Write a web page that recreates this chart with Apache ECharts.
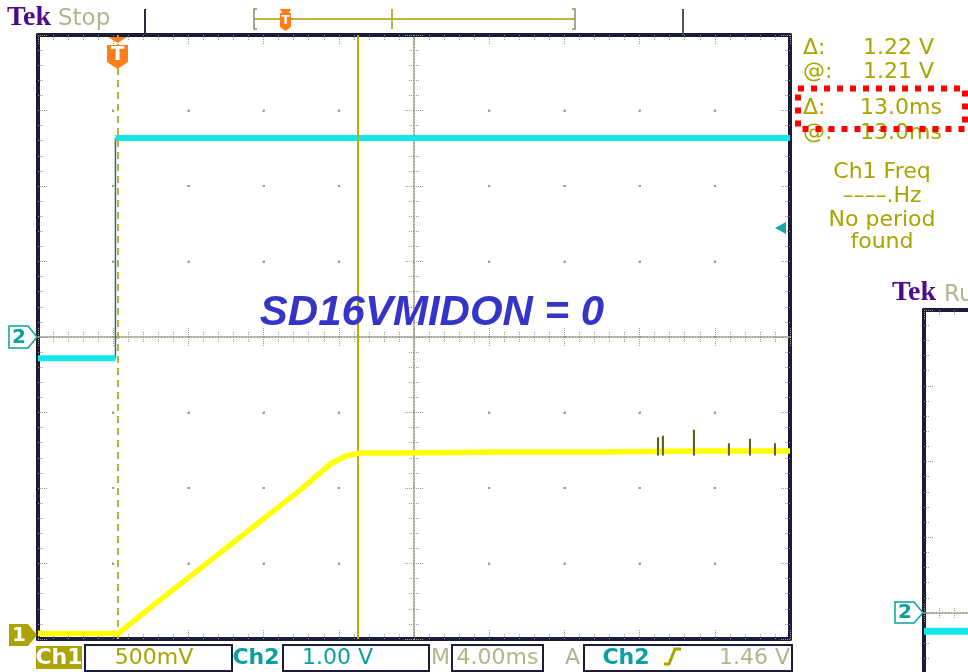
<!DOCTYPE html>
<html>
<head>
<meta charset="utf-8">
<title>Tek scope capture</title>
<script src="https://cdn.jsdelivr.net/npm/echarts@6/dist/echarts.min.js"></script>
<style>
  html, body { margin: 0; padding: 0; background: #fff; }
  #chart { width: 968px; height: 672px; }
</style>
</head>
<body>
<div id="chart"></div>
<script>
// time is ms from the left edge of the screen (4.00 ms/div, 10 div)
var ch1Time = [0, 4.26, 5.96, 11.28, 13.94, 15.53, 16.33, 17.13, 19.26, 24.57, 29.89, 35.21, 40];
var ch1Volt = [0.01, 0.01, 0.18, 0.70, 0.96, 1.13, 1.185, 1.205, 1.205, 1.212, 1.212, 1.219, 1.219];
var spikeTime = [32.98, 33.24, 34.89, 36.75, 37.87, 39.20];
var spikeVolt = [1.31, 1.32, 1.36, 1.27, 1.30, 1.27];
var spikeBase = 1.19;
var ch2Time = [0, 4.12, 4.12, 40];
var ch2Volt = [-0.28, -0.28, 2.636, 2.636];
// second (partly visible) capture on the right
var ch2bTime = [0, 40];
var ch2bVolt = [-0.24, -0.24];
var cursorTime = 17.02;
var triggerTime = 4.23;

var dotGrey = '#9d9d88';
var frame = '#1b1b3a';
var olive = '#aaa300';
var khaki = '#b4b48c';
var teal = '#0aa0a0';
var font = '"DejaVu Sans", sans-serif';

function pairs(ts, vs) {
    var out = [];
    for (var i = 0; i < ts.length; i++) {
        if (i > 0 && ts[i] === ts[i - 1]) out.push([ts[i], '-']);
        out.push([ts[i], vs[i]]);
    }
    return out;
}
function spikes() {
    var out = [];
    for (var i = 0; i < spikeTime.length; i++) {
        out.push([spikeTime[i], spikeBase], [spikeTime[i], spikeVolt[i]], [spikeTime[i], '-']);
    }
    return out;
}

var tickStyle = { color: dotGrey, width: 1, type: [1, 1] };
function axis(o) {
    var a = {
        type: 'value',
        axisLabel: { show: false },
        axisTick: { show: true, inside: true, length: 9, lineStyle: tickStyle },
        minorTick: { show: true, splitNumber: 5, length: 6, lineStyle: tickStyle },
        splitLine: { show: false },
        axisLine: { show: true, onZero: false, lineStyle: { color: frame, width: 4 } }
    };
    for (var k in o) a[k] = o[k];
    return a;
}
var centerLine = { color: dotGrey, width: 1.5, type: [1, 2] };

var chart = echarts.init(document.getElementById('chart'));
chart.setOption({
    animation: false,
    backgroundColor: '#fff',
    grid: [
        { left: 38, top: 35, width: 752, height: 604, outerBoundsMode: 'none' },
        { left: 924, top: 310, width: 752, height: 606, outerBoundsMode: 'none' }
    ],
    xAxis: [
        axis({ gridIndex: 0, min: 0, max: 40, interval: 4, position: 'bottom',
            splitLine: { show: true, lineStyle: { color: dotGrey, width: 2, type: [2, 73.5], dashOffset: 1 } } }),
        axis({ gridIndex: 0, min: 0, max: 40, interval: 4, position: 'top' }),
        axis({ gridIndex: 0, min: -20, max: 20, interval: 4, position: 'bottom',
            axisLine: { show: true, onZero: true, onZeroAxisIndex: 0, lineStyle: centerLine } }),
        axis({ gridIndex: 0, min: -20, max: 20, interval: 4, position: 'top',
            axisLine: { show: true, onZero: true, onZeroAxisIndex: 0, lineStyle: centerLine } }),
        axis({ gridIndex: 1, min: 0, max: 40, interval: 4, position: 'bottom',
            axisLine: { show: false, onZero: false },
            splitLine: { show: true, lineStyle: { color: dotGrey, width: 2, type: [2, 73.75], dashOffset: 1 } } }),
        axis({ gridIndex: 1, min: 0, max: 40, interval: 4, position: 'top' }),
        axis({ gridIndex: 1, min: -20, max: 20, interval: 4, position: 'bottom',
            axisLine: { show: true, onZero: true, onZeroAxisIndex: 5, lineStyle: centerLine } }),
        axis({ gridIndex: 1, min: -20, max: 20, interval: 4, position: 'top',
            axisLine: { show: true, onZero: true, onZeroAxisIndex: 5, lineStyle: centerLine } })
    ],
    yAxis: [
        // ch2, 1.00 V/div, ground at centre
        axis({ gridIndex: 0, min: -4, max: 4, interval: 1, position: 'left',
            splitLine: { show: true, lineStyle: { color: dotGrey, width: 2, type: [2, 73.2], dashOffset: 1 } } }),
        axis({ gridIndex: 0, min: -4, max: 4, interval: 1, position: 'right' }),
        // ch1, 500 mV/div, ground near the bottom
        { type: 'value', gridIndex: 0, min: -0.026, max: 3.974, show: false },
        axis({ gridIndex: 0, min: -4, max: 4, interval: 1, position: 'left',
            axisLine: { show: true, onZero: true, onZeroAxisIndex: 2, lineStyle: centerLine } }),
        axis({ gridIndex: 0, min: -4, max: 4, interval: 1, position: 'right',
            axisLine: { show: true, onZero: true, onZeroAxisIndex: 2, lineStyle: centerLine } }),
        axis({ gridIndex: 1, min: -4, max: 4, interval: 1, position: 'left',
            splitLine: { show: true, lineStyle: { color: dotGrey, width: 2, type: [2, 73.2], dashOffset: 1 } } })
    ],
    series: [
        {
            name: 'ch2 edge', type: 'line', xAxisIndex: 0, yAxisIndex: 0,
            data: pairs([ch2Time[1], ch2Time[2]], [ch2Volt[1], ch2Volt[2]]).filter(function (p) { return p[1] !== '-'; }),
            symbol: 'none', lineStyle: { color: '#2f6f6f', width: 1.5 }, z: 3
        },
        {
            name: 'Ch2', type: 'line', xAxisIndex: 0, yAxisIndex: 0,
            data: pairs(ch2Time, ch2Volt), connectNulls: false,
            symbol: 'none', lineStyle: { color: '#12e6e6', width: 6 }, z: 4
        },
        {
            name: 'Ch1', type: 'line', xAxisIndex: 0, yAxisIndex: 2,
            data: pairs(ch1Time, ch1Volt),
            symbol: 'none', lineStyle: { color: '#ffff00', width: 5.5 }, z: 5,
            markLine: {
                silent: true, symbol: ['none', 'none'], label: { show: false },
                data: [
                    { xAxis: cursorTime, lineStyle: { color: '#b8b000', width: 2, type: 'solid' } },
                    { xAxis: triggerTime, lineStyle: { color: '#b8b43a', width: 2, type: [7, 5] } }
                ]
            }
        },
        {
            name: 'Ch1 spikes', type: 'line', xAxisIndex: 0, yAxisIndex: 2,
            data: spikes(), connectNulls: false,
            symbol: 'none', lineStyle: { color: '#5a5a10', width: 2 }, z: 6
        },
        {
            name: 'Ch2 (second)', type: 'line', xAxisIndex: 4, yAxisIndex: 5,
            data: pairs(ch2bTime, ch2bVolt),
            symbol: 'none', lineStyle: { color: '#12e6e6', width: 7 }, z: 4
        }
    ],
    graphic: [
        // top bar
        { type: 'text', x: 7, y: 32, z: 20, style: { text: 'Tek', fill: '#4b0c8c', font: 'bold 28px "Liberation Serif", serif', verticalAlign: 'bottom' } },
        { type: 'text', x: 58, y: 31, z: 20, style: { text: 'Stop', fill: khaki, font: '23px ' + font, verticalAlign: 'bottom' } },
        { type: 'line', z: 20, shape: { x1: 145, y1: 9, x2: 145, y2: 35 }, style: { stroke: '#2a2a48', lineWidth: 2 } },
        { type: 'line', z: 20, shape: { x1: 683, y1: 9, x2: 683, y2: 35 }, style: { stroke: '#4a5565', lineWidth: 2 } },
        { type: 'line', z: 20, shape: { x1: 254, y1: 19, x2: 575, y2: 19 }, style: { stroke: '#b8b440', lineWidth: 2 } },
        { type: 'polyline', z: 20, shape: { points: [[257, 9], [254, 9], [254, 29], [257, 29]] }, style: { stroke: '#8a8a70', lineWidth: 1.5, fill: null } },
        { type: 'polyline', z: 20, shape: { points: [[572, 9], [575, 9], [575, 29], [572, 29]] }, style: { stroke: '#8a8a70', lineWidth: 1.5, fill: null } },
        { type: 'line', z: 20, shape: { x1: 392, y1: 9, x2: 392, y2: 29 }, style: { stroke: '#b8b440', lineWidth: 2 } },
        { type: 'polygon', z: 21, shape: { points: [[280, 9], [291, 9], [289, 13], [291, 13], [291, 27], [285.5, 31], [280, 27], [280, 13], [282, 13]] }, style: { fill: '#ff7d1a' } },
        { type: 'text', x: 285.5, y: 21, z: 22, style: { text: 'T', fill: '#fff', font: 'bold 12px ' + font, align: 'center', verticalAlign: 'middle' } },
        // trigger marker
        { type: 'polygon', z: 21, shape: { points: [[108, 37], [127, 37], [117.5, 43]] }, style: { fill: '#ff7d1a' } },
        { type: 'polygon', z: 21, shape: { points: [[107, 45], [128, 45], [128, 62], [117.5, 69], [107, 62]] }, style: { fill: '#ff7d1a' } },
        { type: 'text', x: 117.5, y: 55, z: 22, style: { text: 'T', fill: '#fff', font: 'bold 20px ' + font, align: 'center', verticalAlign: 'middle' } },
        // ground markers
        { type: 'polygon', z: 21, shape: { points: [[9, 326], [28, 326], [37, 337], [28, 348], [9, 348]] }, style: { fill: '#fff', stroke: teal, lineWidth: 1.5 } },
        { type: 'text', x: 19, y: 337.5, z: 22, style: { text: '2', fill: teal, font: 'bold 20px ' + font, align: 'center', verticalAlign: 'middle' } },
        { type: 'polygon', z: 21, shape: { points: [[9, 624], [28, 624], [37, 635], [28, 646], [9, 646]] }, style: { fill: olive } },
        { type: 'text', x: 19, y: 635.5, z: 22, style: { text: '1', fill: '#fff', font: 'bold 20px ' + font, align: 'center', verticalAlign: 'middle' } },
        // ch2 trigger level
        { type: 'polygon', z: 21, shape: { points: [[775, 228], [786, 222], [786, 234]] }, style: { fill: '#1aa8a8' } },
        // readouts
        { type: 'text', x: 803, y: 48, z: 20, style: { text: 'Δ:', fill: olive, font: '22px ' + font, verticalAlign: 'middle' } },
        { type: 'text', x: 863, y: 48, z: 20, style: { text: '1.22 V', fill: olive, font: '22px ' + font, verticalAlign: 'middle' } },
        { type: 'text', x: 803, y: 72, z: 20, style: { text: '@:', fill: olive, font: '22px ' + font, verticalAlign: 'middle' } },
        { type: 'text', x: 863, y: 72, z: 20, style: { text: '1.21 V', fill: olive, font: '22px ' + font, verticalAlign: 'middle' } },
        { type: 'text', x: 803, y: 108, z: 20, style: { text: 'Δ:', fill: olive, font: '22px ' + font, verticalAlign: 'middle' } },
        { type: 'text', x: 860, y: 108, z: 20, style: { text: '13.0ms', fill: olive, font: '22px ' + font, verticalAlign: 'middle' } },
        { type: 'text', x: 803, y: 133, z: 20, style: { text: '@:', fill: olive, font: '22px ' + font, verticalAlign: 'middle' } },
        { type: 'text', x: 860, y: 133, z: 20, style: { text: '13.0ms', fill: olive, font: '22px ' + font, verticalAlign: 'middle' } },
        { type: 'rect', z: 21, shape: { x: 798, y: 88.5, width: 167, height: 40.5 }, style: { fill: null, stroke: '#ff0000', lineWidth: 6, lineDash: [6, 7] } },
        { type: 'text', x: 882, y: 172, z: 20, style: { text: 'Ch1 Freq', fill: olive, font: '22px ' + font, align: 'center', verticalAlign: 'middle' } },
        { type: 'text', x: 882, y: 196, z: 20, style: { text: '––––.Hz', fill: olive, font: '22px ' + font, align: 'center', verticalAlign: 'middle' } },
        { type: 'text', x: 882, y: 220, z: 20, style: { text: 'No period', fill: olive, font: '22px ' + font, align: 'center', verticalAlign: 'middle' } },
        { type: 'text', x: 882, y: 242, z: 20, style: { text: 'found', fill: olive, font: '22px ' + font, align: 'center', verticalAlign: 'middle' } },
        // annotation
        { type: 'text', x: 432, y: 313, z: 20, style: { text: 'SD16VMIDON = 0', fill: '#3434c8', font: 'italic bold 42px "Liberation Sans", Arial, sans-serif', align: 'center', verticalAlign: 'middle' } },
        // bottom bar
        { type: 'rect', z: 20, shape: { x: 36, y: 646, width: 46, height: 23 }, style: { fill: olive } },
        { type: 'text', x: 59, y: 658, z: 21, style: { text: 'Ch1', fill: '#fff', font: 'bold 22px ' + font, align: 'center', verticalAlign: 'middle' } },
        { type: 'rect', z: 20, shape: { x: 85, y: 645, width: 147, height: 26 }, style: { fill: null, stroke: frame, lineWidth: 2 } },
        { type: 'text', x: 154, y: 658, z: 21, style: { text: '500mV', fill: olive, font: '22px ' + font, align: 'center', verticalAlign: 'middle' } },
        { type: 'text', x: 256, y: 658, z: 21, style: { text: 'Ch2', fill: teal, font: 'bold 22px ' + font, align: 'center', verticalAlign: 'middle' } },
        { type: 'rect', z: 20, shape: { x: 283, y: 645, width: 146, height: 26 }, style: { fill: null, stroke: frame, lineWidth: 2 } },
        { type: 'text', x: 302, y: 658, z: 21, style: { text: '1.00 V', fill: teal, font: '22px ' + font, verticalAlign: 'middle' } },
        { type: 'text', x: 431, y: 658, z: 21, style: { text: 'M', fill: khaki, font: '22px ' + font, verticalAlign: 'middle' } },
        { type: 'rect', z: 20, shape: { x: 452, y: 645, width: 91, height: 26 }, style: { fill: null, stroke: frame, lineWidth: 2 } },
        { type: 'text', x: 497.5, y: 658, z: 21, style: { text: '4.00ms', fill: khaki, font: '22px ' + font, align: 'center', verticalAlign: 'middle' } },
        { type: 'text', x: 565, y: 658, z: 21, style: { text: 'A', fill: khaki, font: '22px ' + font, verticalAlign: 'middle' } },
        { type: 'rect', z: 20, shape: { x: 584, y: 645, width: 208, height: 26 }, style: { fill: null, stroke: frame, lineWidth: 2 } },
        { type: 'text', x: 626, y: 658, z: 21, style: { text: 'Ch2', fill: teal, font: 'bold 22px ' + font, align: 'center', verticalAlign: 'middle' } },
        { type: 'polyline', z: 21, shape: { points: [[664, 664], [669, 664], [675, 649], [681, 649]] }, style: { stroke: olive, lineWidth: 3, fill: null } },
        { type: 'text', x: 790, y: 658, z: 21, style: { text: '1.46 V', fill: khaki, font: '22px ' + font, align: 'right', verticalAlign: 'middle' } },
        // second capture header and marker
        { type: 'text', x: 892, y: 307, z: 20, style: { text: 'Tek', fill: '#4b0c8c', font: 'bold 28px "Liberation Serif", serif', verticalAlign: 'bottom' } },
        { type: 'text', x: 944, y: 307, z: 20, style: { text: 'Run', fill: khaki, font: '23px ' + font, verticalAlign: 'bottom' } },
        { type: 'polygon', z: 21, shape: { points: [[895, 602], [914, 602], [923, 612.7], [914, 623], [895, 623]] }, style: { fill: '#fff', stroke: teal, lineWidth: 1.5 } },
        { type: 'text', x: 905, y: 613, z: 22, style: { text: '2', fill: teal, font: 'bold 20px ' + font, align: 'center', verticalAlign: 'middle' } }
    ]
});
</script>
</body>
</html>
